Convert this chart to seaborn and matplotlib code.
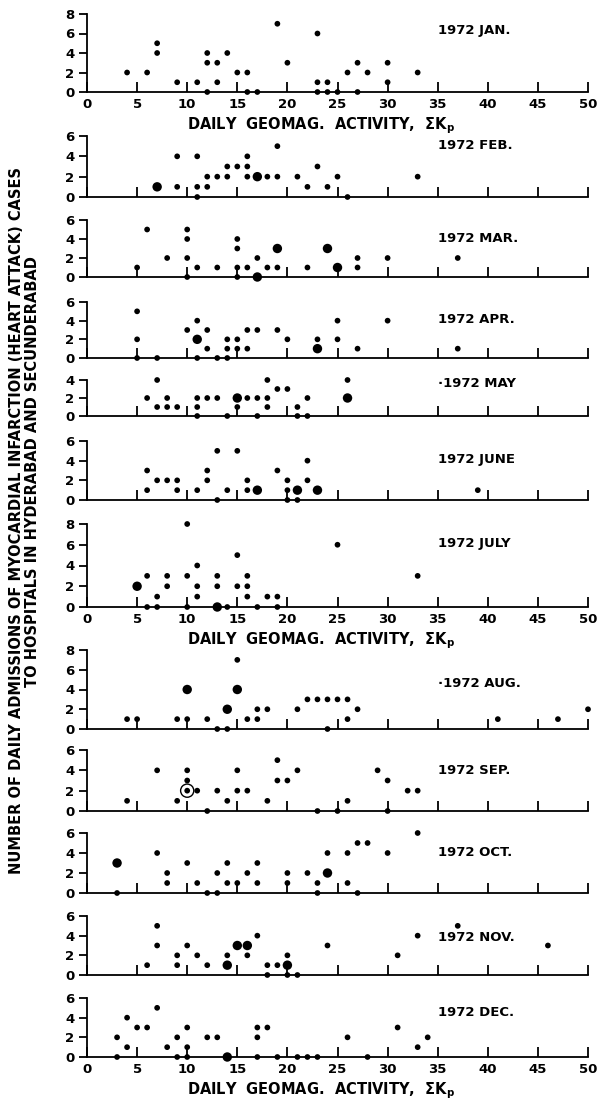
import matplotlib
matplotlib.use("Agg")
import matplotlib.pyplot as plt
import seaborn as sns
import pandas as pd

# ---------------- data (ΣKp, daily admissions); repeated pairs = larger dots ----------------
months = ["1972 JAN.", "1972 FEB.", "1972 MAR.", "1972 APR.", "·1972 MAY", "1972 JUNE",
          "1972 JULY", "·1972 AUG.", "1972 SEP.", "1972 OCT.", "1972 NOV.", "1972 DEC."]
y_max = [8, 6, 6, 6, 4, 6, 8, 8, 6, 6, 6, 6]

jan_kp = [4, 6, 7, 7, 9, 11, 12, 12, 12, 13, 13, 14, 15, 16, 16, 17, 19, 20, 23, 23, 23, 24, 24, 25, 26, 27, 27, 28, 30, 30, 33]
jan_n = [2, 2, 5, 4, 1, 1, 4, 3, 0, 3, 1, 4, 2, 2, 0, 0, 7, 3, 6, 1, 0, 1, 0, 0, 2, 3, 0, 2, 3, 1, 2]
feb_kp = [7, 7, 9, 9, 11, 11, 11, 12, 12, 13, 14, 14, 15, 16, 16, 16, 17, 17, 18, 19, 19, 21, 22, 23, 24, 25, 26, 33]
feb_n = [1, 1, 4, 1, 4, 1, 0, 2, 1, 2, 3, 2, 3, 4, 3, 2, 2, 2, 2, 5, 2, 2, 1, 3, 1, 2, 0, 2]
mar_kp = [5, 6, 8, 10, 10, 10, 10, 11, 13, 15, 15, 15, 15, 16, 17, 17, 17, 18, 19, 19, 19, 22, 24, 24, 25, 25, 27, 27, 30, 37]
mar_n = [1, 5, 2, 5, 4, 2, 0, 1, 1, 4, 3, 1, 0, 1, 2, 0, 0, 1, 3, 3, 1, 1, 3, 3, 1, 1, 2, 1, 2, 2]
apr_kp = [5, 5, 5, 7, 10, 11, 11, 11, 11, 12, 12, 13, 14, 14, 14, 15, 15, 16, 16, 17, 19, 20, 23, 23, 23, 25, 25, 27, 30, 37]
apr_n = [5, 2, 0, 0, 3, 4, 2, 2, 0, 3, 1, 0, 2, 1, 0, 2, 1, 3, 1, 3, 3, 2, 2, 1, 1, 4, 2, 1, 4, 1]
may_kp = [6, 7, 7, 8, 8, 9, 11, 11, 11, 12, 13, 14, 15, 15, 15, 16, 17, 17, 18, 18, 18, 19, 20, 21, 21, 22, 22, 26, 26, 26]
may_n = [2, 4, 1, 2, 1, 1, 2, 1, 0, 2, 2, 0, 2, 2, 1, 2, 2, 0, 4, 2, 1, 3, 3, 1, 0, 2, 0, 4, 2, 2]
jun_kp = [6, 6, 7, 8, 9, 9, 11, 12, 12, 13, 13, 14, 15, 16, 16, 17, 17, 19, 20, 20, 20, 21, 21, 21, 22, 22, 23, 23, 39]
jun_n = [3, 1, 2, 2, 2, 1, 1, 3, 2, 5, 0, 1, 5, 2, 1, 1, 1, 3, 2, 1, 0, 1, 1, 0, 4, 2, 1, 1, 1]
jul_kp = [5, 5, 6, 6, 7, 7, 8, 8, 10, 10, 10, 11, 11, 11, 13, 13, 13, 13, 14, 15, 15, 16, 16, 16, 17, 18, 19, 19, 25, 33]
jul_n = [2, 2, 3, 0, 1, 0, 3, 2, 8, 3, 0, 4, 2, 1, 3, 2, 0, 0, 0, 5, 2, 3, 2, 1, 0, 1, 1, 0, 6, 3]
aug_kp = [4, 5, 9, 10, 10, 10, 12, 13, 14, 14, 14, 15, 15, 15, 16, 17, 17, 18, 21, 22, 23, 24, 24, 25, 26, 26, 27, 41, 47, 50]
aug_n = [1, 1, 1, 4, 4, 1, 1, 0, 2, 2, 0, 7, 4, 4, 1, 2, 1, 2, 2, 3, 3, 3, 0, 3, 3, 1, 2, 1, 1, 2]
sep_kp = [4, 7, 9, 10, 10, 10, 11, 12, 13, 14, 15, 15, 16, 18, 19, 19, 20, 21, 23, 25, 26, 29, 30, 30, 32, 33]
sep_n = [1, 4, 1, 4, 3, 2, 2, 0, 2, 1, 4, 2, 2, 1, 5, 3, 3, 4, 0, 0, 1, 4, 3, 0, 2, 2]
oct_kp = [3, 3, 3, 7, 8, 8, 10, 11, 12, 13, 13, 14, 14, 15, 16, 17, 17, 20, 20, 22, 23, 23, 24, 24, 24, 26, 26, 27, 27, 28, 30, 33]
oct_n = [3, 3, 0, 4, 2, 1, 3, 1, 0, 2, 0, 3, 1, 1, 2, 3, 1, 2, 1, 2, 1, 0, 4, 2, 2, 4, 1, 5, 0, 5, 4, 6]
nov_kp = [6, 7, 7, 9, 9, 10, 11, 12, 14, 14, 14, 15, 15, 16, 16, 16, 17, 18, 18, 19, 20, 20, 20, 20, 21, 24, 31, 33, 37, 46]
nov_n = [1, 5, 3, 2, 1, 3, 2, 1, 2, 1, 1, 3, 3, 3, 3, 2, 4, 1, 0, 1, 2, 1, 1, 0, 0, 3, 2, 4, 5, 3]
dec_kp = [3, 3, 4, 4, 5, 6, 7, 8, 9, 9, 10, 10, 10, 12, 13, 14, 14, 17, 17, 17, 18, 19, 21, 22, 23, 26, 28, 31, 33, 34]
dec_n = [2, 0, 4, 1, 3, 3, 5, 1, 2, 0, 3, 1, 0, 2, 2, 0, 0, 3, 2, 0, 3, 0, 0, 0, 0, 2, 0, 3, 1, 2]
sep_circled_kp = [10]
sep_circled_n = [2]

x_ticks = [0, 5, 10, 15, 20, 25, 30, 35, 40, 45, 50]
xlabel = r"DAILY  GEOMAG.  ACTIVITY,  $\mathbf{\Sigma}$K$_{\mathbf{p}}$"
ylabel1 = "NUMBER OF DAILY ADMISSIONS OF MYOCARDIAL INFARCTION (HEART ATTACK) CASES"
ylabel2 = "TO HOSPITALS IN HYDERABAD AND SECUNDERABAD"

all_kp = [jan_kp, feb_kp, mar_kp, apr_kp, may_kp, jun_kp, jul_kp, aug_kp, sep_kp, oct_kp, nov_kp, dec_kp]
all_n = [jan_n, feb_n, mar_n, apr_n, may_n, jun_n, jul_n, aug_n, sep_n, oct_n, nov_n, dec_n]

# ---------------- layout (pixel positions of each panel: y of top tick, y of zero) ----------------
W, H = 612, 1101
panel_px = [(14, 92), (136, 197), (220, 277), (302, 358), (380, 416), (441, 500),
            (524, 607), (650, 729), (750, 811), (833, 893), (916, 975), (998, 1057)]
label_frac = [0.79, 0.84, 0.68, 0.68, 0.89, 0.68, 0.76, 0.58, 0.66, 0.67, 0.64, 0.76]
x0_px, x50_px = 87, 588
xlabel_center_px = 321
xlabel_offset_px = 34   # distance from axis line to xlabel centre
show_xlabels = {0, 6, 11}

sns.set_style("ticks")
plt.rcParams["font.family"] = ["DejaVu Sans"]
plt.rcParams["font.weight"] = "bold"
plt.rcParams["mathtext.default"] = "bf"
for key in ("text.color", "axes.labelcolor", "xtick.color", "ytick.color", "axes.edgecolor"):
    plt.rcParams[key] = "black"

fig = plt.figure(figsize=(W / 100, H / 100), dpi=100)
fig.patch.set_facecolor("white")

for i in range(12):
    ytop, y0 = panel_px[i]
    h_px = y0 - ytop
    ax = fig.add_axes([x0_px / W, 1 - y0 / H, (x50_px - x0_px) / W, h_px / H])
    ax.set_facecolor("white")
    df = pd.DataFrame({"kp": all_kp[i], "n": all_n[i]})
    agg = df.groupby(["kp", "n"]).size().reset_index(name="days")
    agg["days"] = agg["days"].clip(upper=2)
    sns.scatterplot(data=agg, x="kp", y="n", size="days", sizes={1: 17, 2: 46},
                    color="black", edgecolor="none", linewidth=0, legend=False,
                    ax=ax, clip_on=False, zorder=5)
    if i == 8:
        sns.scatterplot(x=sep_circled_kp, y=sep_circled_n, s=90, marker="o",
                        facecolor="none", edgecolor="black", linewidth=1.0,
                        ax=ax, clip_on=False, zorder=6)
    ax.set_xlim(0, 50)
    ax.set_ylim(0, y_max[i])
    ax.set_xticks(x_ticks)
    ax.set_yticks(list(range(0, y_max[i] + 1, 2)))
    ax.set_yticks([y_max[i]], minor=True)
    ax.tick_params(axis="x", direction="in", length=7, width=1.3, pad=4,
                   labelsize=9.5, labelbottom=(i in show_xlabels), colors="black")
    ax.tick_params(axis="y", which="major", direction="out", length=6, width=1.3,
                   pad=3, labelsize=9.5, colors="black")
    ax.tick_params(axis="y", which="minor", direction="in", length=6, width=1.3,
                   colors="black")
    for lab in ax.get_xticklabels() + ax.get_yticklabels():
        lab.set_fontweight("bold")
    sns.despine(ax=ax)
    for sp in ("left", "bottom"):
        ax.spines[sp].set_linewidth(1.3)
        ax.spines[sp].set_color("black")
    ax.set_ylabel("")
    ax.set_xlabel("")
    if i in show_xlabels:
        ax.text((xlabel_center_px - x0_px) / (x50_px - x0_px), -xlabel_offset_px / h_px,
                xlabel, transform=ax.transAxes, fontsize=10.5, fontweight="bold",
                ha="center", va="center", color="black")
    ax.text(0.70, label_frac[i], months[i], transform=ax.transAxes, fontsize=9.5,
            fontweight="bold", va="center", ha="left", color="black")

fig.text(17 / W, 1 - 520 / H, ylabel1, rotation=90, ha="center", va="center",
         fontsize=10.5, fontweight="bold", color="black")
fig.text(33 / W, 1 - 472 / H, ylabel2, rotation=90, ha="center", va="center",
         fontsize=10.5, fontweight="bold", color="black")

fig.savefig("out.png", dpi=100, facecolor="white")
